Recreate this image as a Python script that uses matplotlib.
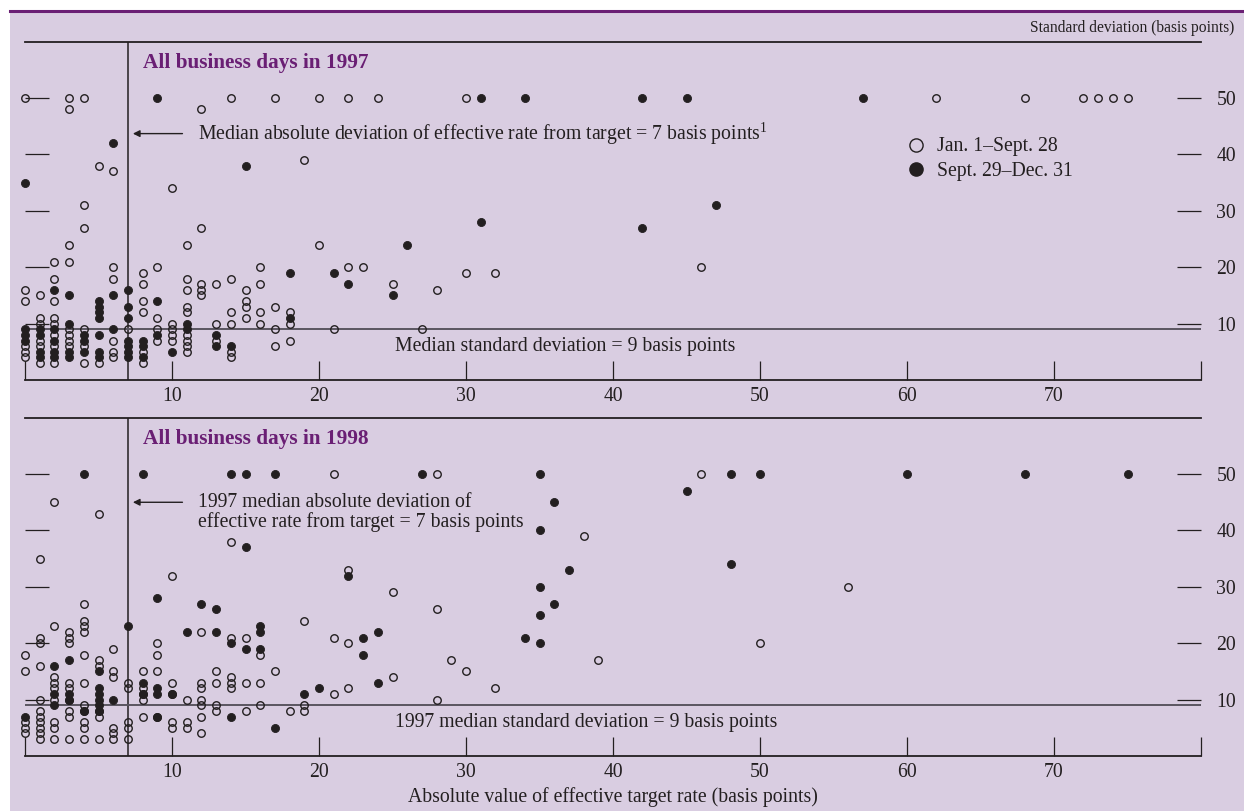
import matplotlib
matplotlib.use('Agg')
import matplotlib.pyplot as plt
from matplotlib.lines import Line2D
from matplotlib.patches import Rectangle

plt.rcParams['font.family'] = ['Liberation Serif', 'DejaVu Serif']
plt.rcParams['mathtext.fontset'] = 'custom'
plt.rcParams['mathtext.rm'] = 'Liberation Serif'

# ---------------- data: {absolute deviation: [std dev values]} ----------------
# 1997, Jan. 1 - Sept. 28 (open)
open_1997 = {
    0: [50, 16, 14, 6, 5, 4], 1: [15, 11, 10, 7, 6, 3], 2: [21, 18, 14, 11, 10, 8, 6, 3],
    3: [50, 48, 24, 21, 9, 8, 7, 6], 4: [50, 31, 27, 9, 6, 3], 5: [38, 3],
    6: [37, 20, 18, 7, 5, 4], 7: [9], 8: [19, 17, 14, 12, 5, 3], 9: [20, 11, 9, 7],
    10: [34, 10, 9, 8, 7], 11: [24, 18, 16, 13, 12, 8, 7, 6, 5], 12: [48, 27, 17, 16, 15],
    13: [17, 10, 7], 14: [50, 18, 12, 10, 5, 4], 15: [16, 14, 13, 11], 16: [20, 17, 12, 10],
    17: [50, 13, 9, 6], 18: [12, 10, 7], 19: [39], 20: [50, 24], 21: [9], 22: [50, 20],
    23: [20], 24: [50], 25: [17], 27: [9], 28: [16], 30: [50, 19], 32: [19], 46: [20],
    62: [50], 68: [50], 72: [50], 73: [50], 74: [50], 75: [50],
}
# 1997, Sept. 29 - Dec. 31 (filled)
filled_1997 = {
    0: [35, 9, 8, 7], 1: [9, 8, 5, 4], 2: [16, 9, 7, 5, 4], 3: [15, 10, 5, 4], 4: [8, 7, 5],
    5: [14, 13, 12, 11, 8, 5, 4], 6: [42, 15, 9], 7: [16, 13, 11, 7, 6, 5, 4], 8: [7, 6, 4],
    9: [50, 14, 8], 10: [5], 11: [10, 9], 13: [8, 6], 14: [6], 15: [38], 18: [19, 11],
    21: [19], 22: [17], 25: [15], 26: [24], 31: [50, 28], 34: [50], 42: [50, 27], 45: [50],
    47: [31], 57: [50],
}
# 1998, Jan. 1 - Sept. 28 (open)
open_1998 = {
    0: [18, 15, 6, 5, 4], 1: [35, 21, 20, 16, 10, 8, 7, 6, 5, 4, 3],
    2: [45, 23, 14, 13, 12, 10, 6, 5, 3], 3: [22, 21, 20, 13, 12, 10, 8, 7, 3],
    4: [27, 24, 23, 22, 18, 13, 9, 8, 6, 5, 3], 5: [43, 17, 16, 8, 7, 3],
    6: [19, 15, 14, 5, 4, 3], 7: [13, 12, 6, 5, 3], 8: [15, 12, 11, 10, 7],
    9: [20, 18, 15, 7], 10: [32, 13, 11, 6, 5], 11: [10, 6, 5], 12: [22, 13, 12, 10, 9, 7, 4],
    13: [15, 13, 9, 8], 14: [38, 21, 14, 13, 12], 15: [21, 13, 8], 16: [18, 13, 9],
    17: [15], 18: [8], 19: [24, 9, 8], 21: [50, 21, 11], 22: [33, 20, 12], 25: [29, 14],
    28: [50, 26, 10], 29: [17], 30: [15], 32: [12], 38: [39], 39: [17], 46: [50],
    50: [20], 56: [30],
}
# 1998, Sept. 29 - Dec. 31 (filled)
filled_1998 = {
    0: [7], 2: [16, 11, 9], 3: [17, 11, 10], 4: [50, 8], 5: [15, 12, 11, 10, 9, 8],
    6: [10], 7: [23], 8: [50, 13, 11], 9: [28, 12, 11, 7], 10: [11], 11: [22], 12: [27],
    13: [26, 22], 14: [50, 20, 7], 15: [50, 37, 19], 16: [23, 22, 19], 17: [50, 5],
    19: [11], 20: [12], 22: [32], 23: [21, 18], 24: [22, 13], 27: [50], 34: [21],
    35: [50, 40, 30, 25, 20], 36: [45, 27], 37: [33], 45: [47], 48: [50, 34], 50: [50],
    60: [50], 68: [50], 75: [50],
}

x_ticks = [0, 10, 20, 30, 40, 50, 60, 70, 80]
x_ticklabels = ['', '10', '20', '30', '40', '50', '60', '70', '']
y_ticks = [10, 20, 30, 40, 50]
median_abs_dev = 7
median_std = 9

PURPLE = '#6a1f74'
BG = '#d9cde1'
INK = '#231f20'
FS = 14.2


def flatten(d):
    xs, ys = [], []
    for k, vals in d.items():
        for v in vals:
            xs.append(k)
            ys.append(v)
    return xs, ys


W, H = 1244, 811
fig = plt.figure(figsize=(W / 100, H / 100), dpi=100)
bg = Rectangle((10 / W, 0), 1 - 10 / W, 1 - 12 / H, transform=fig.transFigure,
               facecolor=BG, edgecolor='none', zorder=-10)
fig.add_artist(bg)
fig.add_artist(Line2D([10 / W, 1], [1 - 11 / H] * 2, transform=fig.transFigure,
                      color=PURPLE, lw=2.2, zorder=-5))


def panel(top_px, base_px, opens, filleds, title):
    rect = (25 / W, 1 - base_px / H, 1176 / W, (base_px - top_px) / H)
    ax = fig.add_axes(rect)
    ax.set_facecolor('none')
    ax.set_xlim(0, 80)
    ax.set_ylim(0, 60)
    for s in ['left', 'right']:
        ax.spines[s].set_visible(False)
    for s in ['top', 'bottom']:
        ax.spines[s].set_linewidth(1.3)
        ax.spines[s].set_color(INK)
    ax.set_xticks(x_ticks)
    ax.set_xticklabels(x_ticklabels)
    ax.tick_params(axis='x', direction='in', length=13.5, width=0.9, pad=5,
                   labelsize=FS, colors=INK)
    ax.set_yticks(y_ticks)
    ax.tick_params(axis='y', direction='in', left=True, right=True, labelleft=False,
                   labelright=True, length=17.5, width=0.9, pad=11, labelsize=FS, colors=INK)
    ax.axvline(median_abs_dev, color=INK, lw=1.1, zorder=1)
    ax.axhline(median_std, color='#5a5560', lw=1.4, zorder=1)

    xo, yo = flatten(opens)
    ax.plot(xo, yo, ls='', marker='o', ms=5.4, mfc='none', mec=INK, mew=1.0,
            clip_on=False, zorder=3)
    xf, yf = flatten(filleds)
    ax.plot(xf, yf, ls='', marker='o', ms=5.8, mfc=INK, mec=INK, mew=0.6,
            clip_on=False, zorder=4)

    ax.text(8.0, 56.3, title, color=PURPLE, fontweight='bold', fontsize=15.3, va='center')
    return ax


ax1 = panel(41.7, 380, open_1997, filled_1997, 'All business days in 1997')
ax2 = panel(417.7, 756, open_1998, filled_1998, 'All business days in 1998')

# annotations top
ax1.annotate('', xy=(7.15, 43.7), xytext=(10.9, 43.7),
             arrowprops=dict(arrowstyle='-|>', color=INK, lw=1.0, mutation_scale=10))
ax1.text(11.8, 43.7, 'Median absolute deviation of effective rate from target = 7 basis points$^{\\mathrm{1}}$',
         fontsize=FS, color=INK, va='center')
ax1.text(25.2, 6.0, 'Median standard deviation = 9 basis points', fontsize=FS, color=INK, va='center')

handles = [Line2D([], [], ls='', marker='o', ms=9.5, mfc='none', mec=INK, mew=1.0),
           Line2D([], [], ls='', marker='o', ms=9.5, mfc=INK, mec=INK)]
ax1.legend(handles, ['Jan. 1\u2013Sept. 28', 'Sept. 29\u2013Dec. 31'], loc='upper left',
           bbox_to_anchor=(0.749, 0.717), frameon=False, fontsize=FS, handletextpad=0.6,
           labelspacing=0.3, borderaxespad=0, borderpad=0, handlelength=1.0,
           labelcolor=INK)

# annotations bottom
ax2.annotate('', xy=(7.15, 45.0), xytext=(10.9, 45.0),
             arrowprops=dict(arrowstyle='-|>', color=INK, lw=1.0, mutation_scale=10))
ax2.text(11.8, 43.2, '1997 median absolute deviation of\neffective rate from target = 7 basis points',
         fontsize=FS, color=INK, va='center', linespacing=1.05)
ax2.text(25.2, 5.9, '1997 median standard deviation = 9 basis points', fontsize=FS, color=INK,
         va='center')
ax2.set_xlabel('Absolute value of effective target rate (basis points)', fontsize=FS,
               color=INK, labelpad=4)

fig.text(1234 / W, 1 - 28 / H, 'Standard deviation (basis points)', fontsize=11.2, color=INK,
         ha='right', va='center')

fig.savefig('out.png', dpi=100)
